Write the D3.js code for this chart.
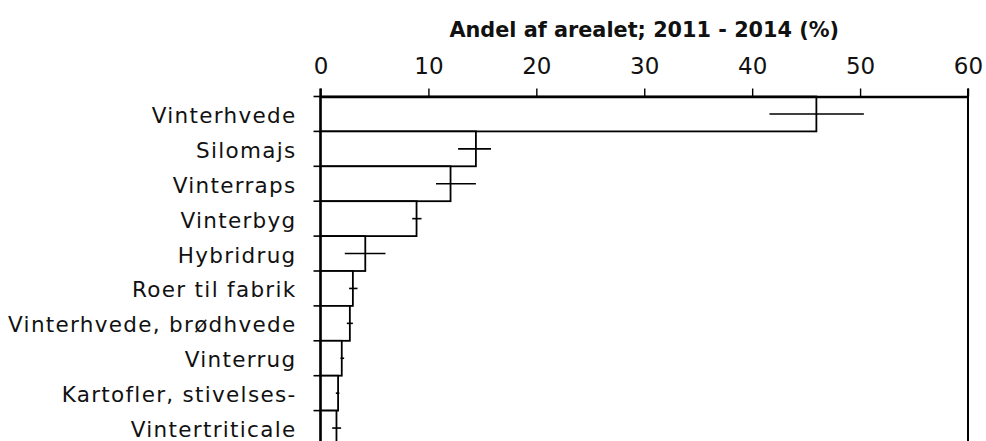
<!DOCTYPE html>
<html>
<head>
<meta charset="utf-8">
<script src="https://cdn.jsdelivr.net/npm/d3@7"></script>
<style>
  html, body { margin: 0; padding: 0; background: #fff; }
  svg { display: block; font-family: "DejaVu Sans", "Open Sans", sans-serif; }
</style>
</head>
<body>
<svg id="chart" width="986" height="441"></svg>
<script>
// Crop share of the arable area, 2011 - 2014 (%), with min/max range per crop
const categories = [
  "Vinterhvede", "Silomajs", "Vinterraps", "Vinterbyg", "Hybridrug",
  "Roer til fabrik", "Vinterhvede, brødhvede", "Vinterrug",
  "Kartofler, stivelses-", "Vintertriticale"
];
const shares = [45.95, 14.4, 12.05, 8.9, 4.15, 3.0, 2.72, 1.97, 1.63, 1.48];
const rangeLow = [41.6, 12.75, 10.7, 8.5, 2.25, 2.65, 2.44, 1.85, 1.42, 1.08];
const rangeHigh = [50.35, 15.8, 14.4, 9.36, 6.02, 3.43, 3.0, 2.19, 1.75, 1.91];
const xTicks = [0, 10, 20, 30, 40, 50, 60];
const title = "Andel af arealet; 2011 - 2014 (%)";

const svg = d3.select("#chart");
const plotLeft = 320.5, plotRight = 968, plotTop = 96.5, step = 34.9;

const x = d3.scaleLinear().domain([0, 60]).range([plotLeft, plotRight]);
const y = d3.scaleBand().domain(categories)
  .range([plotTop, plotTop + step * categories.length]).padding(0);

// Bars: white fill with black outline, filling each band
svg.append("g").selectAll("rect")
  .data(categories)
  .join("rect")
  .attr("x", x(0))
  .attr("y", d => y(d))
  .attr("width", (d, i) => x(shares[i]) - x(0))
  .attr("height", y.bandwidth())
  .attr("fill", "#fff")
  .attr("stroke", "#000")
  .attr("stroke-width", 1.8);

// Range lines across the bar ends
svg.append("g").selectAll("line")
  .data(categories)
  .join("line")
  .attr("x1", (d, i) => x(rangeLow[i]))
  .attr("x2", (d, i) => x(rangeHigh[i]))
  .attr("y1", d => y(d) + y.bandwidth() / 2)
  .attr("y2", d => y(d) + y.bandwidth() / 2)
  .attr("stroke", "#000")
  .attr("stroke-width", 1.6);

// Top axis
const xAxis = svg.append("g")
  .attr("transform", `translate(0,${plotTop})`)
  .call(d3.axisTop(x).tickValues(xTicks).tickSize(8).tickSizeOuter(0).tickPadding(15));
xAxis.select(".domain").attr("stroke-width", 2.4);
xAxis.selectAll(".tick line").attr("stroke-width", 1.4);
xAxis.selectAll(".tick text")
  .attr("font-family", "DejaVu Sans, sans-serif")
  .attr("font-size", 23)
  .attr("fill", "#111");

// Left category axis with ticks at band boundaries
const yAxis = svg.append("g").attr("transform", `translate(${plotLeft},0)`);
yAxis.append("line")
  .attr("x1", 0).attr("x2", 0)
  .attr("y1", plotTop - 8).attr("y2", y.range()[1])
  .attr("stroke", "#000").attr("stroke-width", 2.4);
yAxis.selectAll("line.bound")
  .data(categories)
  .join("line")
  .attr("class", "bound")
  .attr("x1", -7).attr("x2", 0)
  .attr("y1", d => y(d)).attr("y2", d => y(d))
  .attr("stroke", "#000").attr("stroke-width", 1.6);
yAxis.selectAll("text")
  .data(categories)
  .join("text")
  .attr("x", -24)
  .attr("y", d => y(d) + y.bandwidth() / 2)
  .attr("dy", "0.42em")
  .attr("text-anchor", "end")
  .attr("font-size", 21.5)
  .attr("letter-spacing", 1.3)
  .attr("fill", "#111")
  .text(d => d);

// Right frame line
svg.append("line")
  .attr("x1", plotRight).attr("x2", plotRight)
  .attr("y1", plotTop - 8).attr("y2", y.range()[1])
  .attr("stroke", "#000").attr("stroke-width", 2);

// Axis title
svg.append("text")
  .attr("x", (plotLeft + plotRight) / 2)
  .attr("y", 37)
  .attr("text-anchor", "middle")
  .attr("font-size", 20.8)
  .attr("font-weight", "bold")
  .attr("fill", "#111")
  .text(title);
</script>
</body>
</html>
